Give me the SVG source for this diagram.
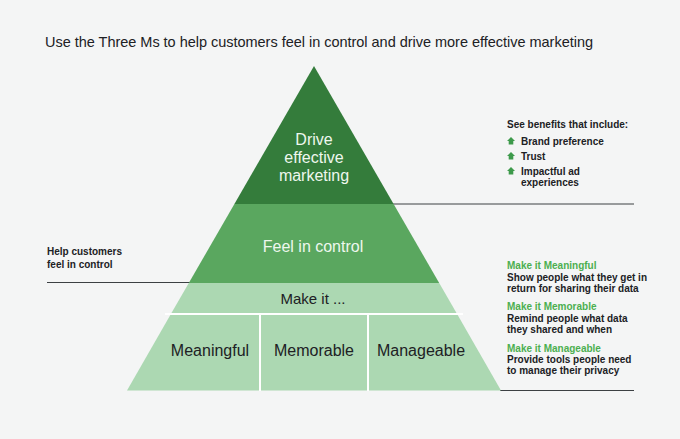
<svg xmlns="http://www.w3.org/2000/svg" width="680" height="439" viewBox="0 0 680 439">
<style>
text{font-family:"Liberation Sans",Arial,sans-serif}
.title{font-size:14.5px;fill:#202124}
.lvl{font-size:16px;fill:#eef7ee;text-anchor:middle}
.dark{font-size:16px;fill:#202124;text-anchor:middle}
.note{font-size:10px;fill:#202124;font-weight:600}
.gnote{font-size:10px;fill:#4caf50;font-weight:600}
.rule{stroke:#3c4043;stroke-width:1;fill:none}
.sep{stroke:#ffffff;stroke-width:2}
</style>
<defs>
<path id="up" d="M0,-4 L4,0 L2.3,0 L2.3,3.5 L-2.3,3.5 L-2.3,0 L-4,0 Z" fill="#3d9a4b"/>
</defs>
<rect width="680" height="439" fill="#f4f5f5"/>
<text class="title" x="45" y="47" textLength="548">Use the Three Ms to help customers feel in control and drive more effective marketing</text>
<g id="connectors">
<line class="rule" x1="393" y1="204" x2="634" y2="204"/>
<line class="rule" x1="47" y1="282.5" x2="190" y2="282.5"/>
<line class="rule" x1="500" y1="390.5" x2="634" y2="390.5"/>
</g>
<g id="drive">
<polygon points="314,66 393.6,204 234.4,204" fill="#347c3b"/>
<text class="lvl" x="314" y="145">Drive</text>
<text class="lvl" x="314" y="163">effective</text>
<text class="lvl" x="314" y="181">marketing</text>
</g>
<g id="feel">
<polygon points="234.4,204 393.6,204 439.2,283 188.8,283" fill="#5aa75f"/>
<text class="lvl" x="313" y="252">Feel in control</text>
</g>
<g id="makeit">
<polygon points="188.8,283 439.2,283 457.1,314 170.9,314" fill="#acd8b2"/>
<text class="dark" x="313" y="304" style="font-size:15px">Make it ...</text>
</g>
<g id="meaningful">
<polygon points="170.9,314 260,314 260,390.5 127,390.5" fill="#acd8b2"/>
<text class="dark" x="210" y="356">Meaningful</text>
</g>
<g id="memorable">
<rect x="260" y="314" width="108" height="76.5" fill="#acd8b2"/>
<text class="dark" x="314" y="356">Memorable</text>
</g>
<g id="manageable">
<polygon points="368,314 457.1,314 501,390.5 368,390.5" fill="#acd8b2"/>
<text class="dark" x="421" y="356">Manageable</text>
</g>
<g id="separators">
<line class="sep" x1="165" y1="314" x2="463" y2="314"/>
<line class="sep" x1="260" y1="314" x2="260" y2="391"/>
<line class="sep" x1="368" y1="314" x2="368" y2="391"/>
</g>
<g id="help">
<text class="note" x="47" y="255">Help customers</text>
<text class="note" x="47" y="268">feel in control</text>
</g>
<g id="benefits">
<text class="note" x="507" y="128">See benefits that include:</text>
<use href="#up" x="511" y="141"/>
<text class="note" x="521" y="144.5">Brand preference</text>
<use href="#up" x="511" y="156"/>
<text class="note" x="521" y="159.5">Trust</text>
<use href="#up" x="511" y="171"/>
<text class="note" x="521" y="174.5">Impactful ad</text>
<text class="note" x="521" y="186">experiences</text>
</g>
<g id="tips">
<text class="gnote" x="507" y="268.5">Make it Meaningful</text>
<text class="note" x="507" y="280.5">Show people what they get in</text>
<text class="note" x="507" y="291.5">return for sharing their data</text>
<text class="gnote" x="507" y="309.5">Make it Memorable</text>
<text class="note" x="507" y="321.5">Remind people what data</text>
<text class="note" x="507" y="332.5">they shared and when</text>
<text class="gnote" x="507" y="351.5">Make it Manageable</text>
<text class="note" x="507" y="362.5">Provide tools people need</text>
<text class="note" x="507" y="373.5">to manage their privacy</text>
</g>
</svg>
